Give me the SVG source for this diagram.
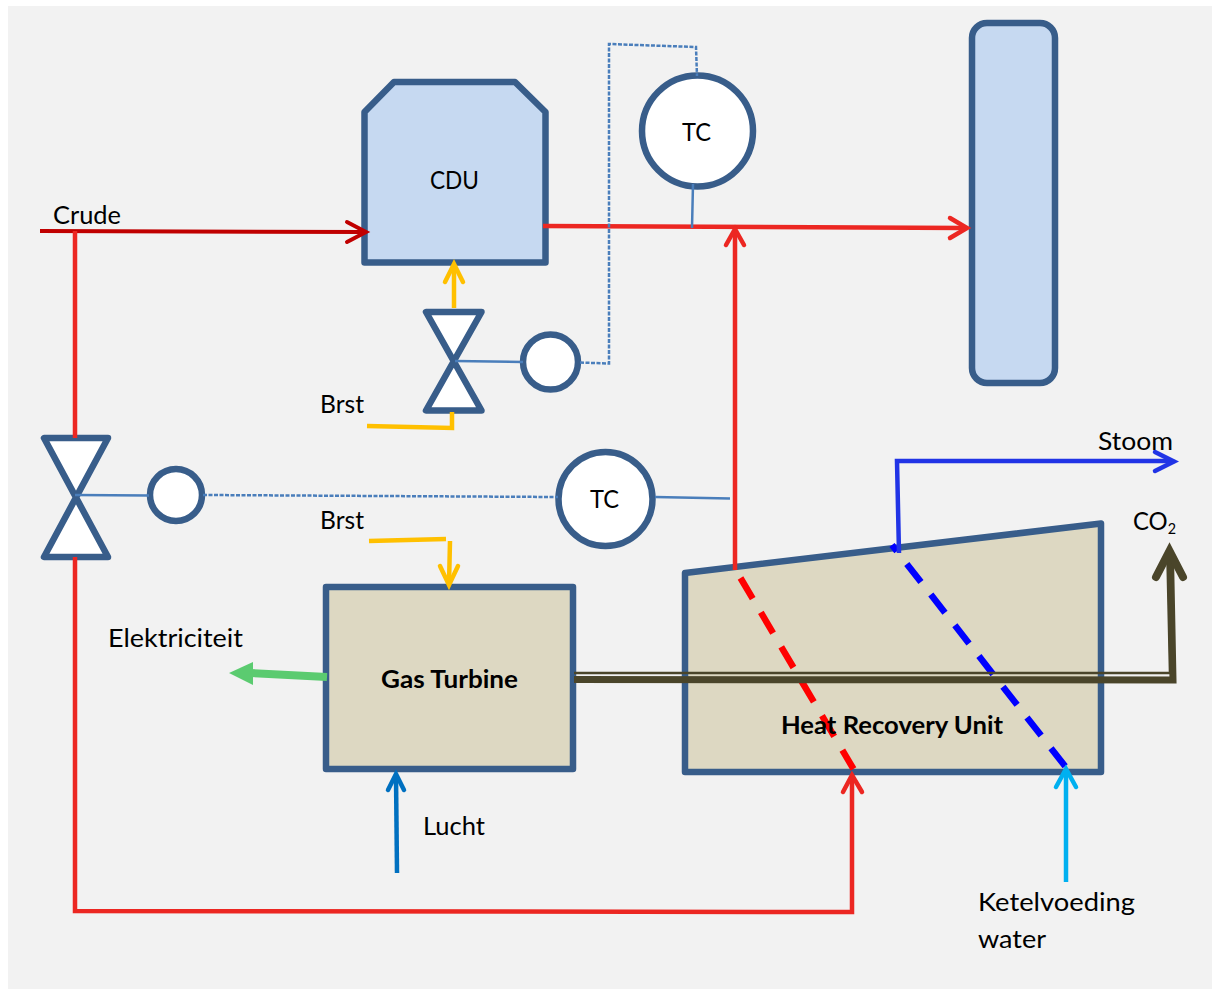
<svg xmlns="http://www.w3.org/2000/svg" width="1212" height="989" viewBox="0 0 1212 989">
<style>
text{font-family:Lato,"Open Sans",sans-serif;font-size:25px;fill:#000}
.b{font-weight:700}
.n{stroke:#385d8a;stroke-width:6.5;stroke-linejoin:round}
.w{fill:#fff}.d{fill:#ddd8c2}.l{fill:#c6d9f1}
.c{fill:none;stroke-linecap:butt;stroke-linejoin:miter}
.h{fill:none;stroke-linecap:round;stroke-linejoin:miter}
.red{stroke:#ec2722;stroke-width:4.5}
.ctl{stroke:#4a7ebb;stroke-width:2.5}
.dash{stroke-dasharray:4 1.5}
.yel{stroke:#ffc000;stroke-width:4.5}
.blu{stroke:#2134e6;stroke-width:4.5}
</style>
<rect width="1212" height="989" fill="#fff"/>
<rect x="8" y="6" width="1204" height="983" fill="#f2f2f2"/>
<g id="CDU"><path class="n l" d="M364.5 112 394 82H515L545.5 112V262.5H364.5Z"/><text x="430" y="189" textLength="49" lengthAdjust="spacingAndGlyphs">CDU</text></g>
<g id="vessel"><rect class="n l" x="972" y="23" width="83" height="360" rx="15"/></g>
<g id="TC1"><circle class="n w" cx="697.5" cy="131" r="55.5"/><text x="682" y="141" textLength="29" lengthAdjust="spacingAndGlyphs">TC</text></g>
<g id="TC2"><circle class="n w" cx="605.5" cy="499" r="47"/><text x="590" y="508" textLength="29" lengthAdjust="spacingAndGlyphs">TC</text></g>
<g id="valve1"><path class="n w" d="M426 312H481.5L426 410.5H481.5Z"/></g>
<g id="valve2"><path class="n w" d="M44 438H108L44 557H108Z"/></g>
<g id="actuator1"><circle class="n w" cx="550.5" cy="362" r="27.5"/></g>
<g id="actuator2"><circle class="n w" cx="176" cy="495" r="26"/></g>
<g id="gas-turbine"><rect class="n d" x="326" y="587" width="247" height="182"/><text class="b" x="381" y="688" textLength="137" lengthAdjust="spacingAndGlyphs">Gas Turbine</text></g>
<g id="heat-recovery"><path class="n d" d="M685 573 1101 523.5V772H685Z"/></g>
<g id="connectors">
<path class="c" stroke="#c00000" stroke-width="4" d="M40 231 364 232"/>
<path class="h" stroke="#c00000" stroke-width="4" d="M347 222 366 232 347 242"/>
<path class="c red" d="M543 226 965 228"/>
<path class="h red" d="M950 218 967 228 950 238"/>
<path class="c red" d="M735 570V230"/>
<path class="h red" d="M726 245 735 229 744 245"/>
<path class="c red" d="M75 231V438M75 557V911L852 912V777"/>
<path class="h red" d="M843 792 852 775 862 792"/>
<path class="c ctl dash" d="M580 362.5 609 363.5V44L696 47 697 76"/>
<path class="c ctl" d="M455 361 523 362M693 184 692 228M75 495 149 495.5M655 497 730 498.5"/>
<path class="c ctl dash" d="M203 495 558 497"/>
<path class="c yel" d="M454 308V266"/>
<path class="h yel" d="M445 282 454 264 463 282"/>
<path class="c yel" d="M367 426 452 428V412"/>
<path class="c yel" d="M369 541 446 539M450 541 449 584"/>
<path class="h yel" d="M440 566 449 585 458 566"/>
<path class="c" stroke="#5bcb70" stroke-width="8" d="M327 677 250 673"/>
<path fill="#5bcb70" d="M229 673 253 662V685Z"/>
<path class="c" stroke="#0070c0" stroke-width="4.5" d="M397 873 396 776"/>
<path class="h" stroke="#0070c0" stroke-width="4.5" d="M388 790 396 774 404 790"/>
<path class="c" stroke="#ff0000" stroke-width="6.5" stroke-dasharray="24 16" d="M740.5 578 853.5 769"/>
<path class="c" stroke="#0000ff" stroke-width="6.5" stroke-dasharray="23 16" stroke-dashoffset="15" d="M892 545 1066.5 768"/>
<path class="c blu" d="M899 553 897 461H1172"/>
<path class="h blu" d="M1155 452 1174 461.5 1155 471"/>
<path class="c" stroke="#4a452a" stroke-width="2.5" fill="none" d="M574 673H1170L1167.5 560"/>
<path class="c" stroke="#4a452a" stroke-width="7" fill="none" d="M574 679.5 1173 680 1170.5 556"/>
<path class="h" stroke="#4a452a" stroke-width="8" d="M1156 577 1169.5 551 1183 577"/>
<path class="c" stroke="#00b0f0" stroke-width="4.5" d="M1066 882V772"/>
<path class="h" stroke="#00b0f0" stroke-width="4.5" d="M1056 787 1066 769 1076 787"/>
</g>
<g id="labels">
<text x="53" y="224" textLength="68" lengthAdjust="spacingAndGlyphs">Crude</text>
<text x="320" y="413" textLength="44" lengthAdjust="spacingAndGlyphs">Brst</text>
<text x="320" y="529" textLength="44" lengthAdjust="spacingAndGlyphs">Brst</text>
<text x="108" y="647" textLength="135" lengthAdjust="spacingAndGlyphs">Elektriciteit</text>
<text x="423" y="835" textLength="62" lengthAdjust="spacingAndGlyphs">Lucht</text>
<text class="b" x="781" y="734" textLength="222" lengthAdjust="spacingAndGlyphs">Heat Recovery Unit</text>
<text x="978" y="911" textLength="157" lengthAdjust="spacingAndGlyphs">Ketelvoeding</text>
<text x="978" y="948" textLength="68" lengthAdjust="spacingAndGlyphs">water</text>
<text x="1098" y="450" textLength="75" lengthAdjust="spacingAndGlyphs">Stoom</text>
<text x="1133" y="530" textLength="43" lengthAdjust="spacingAndGlyphs">CO<tspan font-size="15" dy="4">2</tspan></text>
</g>
</svg>
